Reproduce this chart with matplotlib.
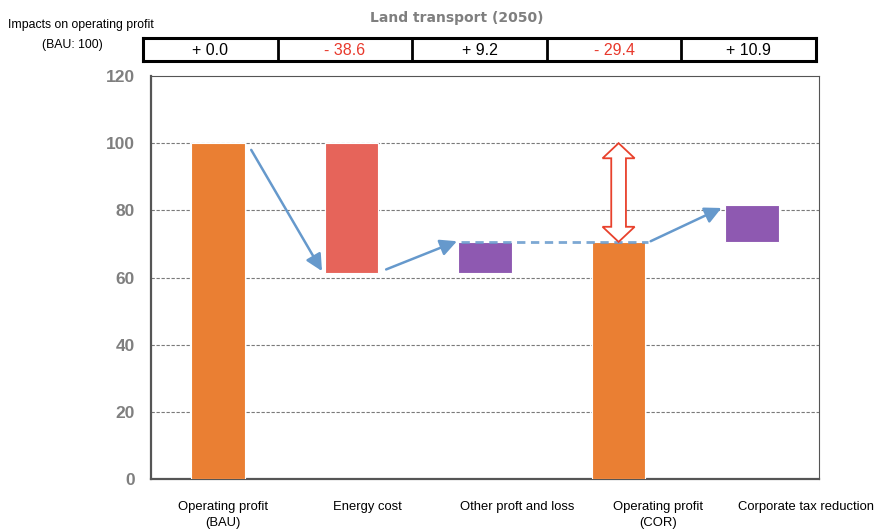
import matplotlib

matplotlib.use("Agg")
import matplotlib.pyplot as plt  # noqa: E402
import numpy as np  # noqa: E402
from matplotlib.patches import Polygon  # noqa: E402

categories = [
    "Operating profit\n(BAU)",
    "Energy cost",
    "Other proft and loss",
    "Operating profit\n(COR)",
    "Corporate tax reduction",
]
bau = 100.0
changes = [0.0, -38.6, 9.2, -29.4, 10.9]
change_labels = ["+ 0.0", "- 38.6", "+ 9.2", "- 29.4", "+ 10.9"]

# category labels in the source sit on their own, wider spacing (pixel centres)
label_px = [223, 367, 517, 658, 806]

ORANGE = "#EA7F33"
RED = "#E6645A"
PURPLE = "#8E59B1"
BLUE = "#6699CC"
NUM_RED = "#E8392C"
GRAY = "#7F7F7F"
SANS = ["Liberation Sans", "DejaVu Sans"]
W, H = 880, 532

# waterfall geometry from the data
energy_lo = bau + changes[1]
other_hi = energy_lo + changes[2]
cor = bau + changes[3]
tax_hi = cor + changes[4]
bottoms = [0, energy_lo, energy_lo, 0, cor]
heights = [bau, -changes[1], changes[2], cor, changes[4]]
colors = [ORANGE, RED, PURPLE, ORANGE, PURPLE]
x = np.arange(len(categories))
w = 0.4

fig = plt.figure(figsize=(8.8, 5.32), dpi=100)
ax = fig.add_axes([151 / W, 1 - 479 / H, 668 / W, 403 / H])
ax.bar(x, heights, bottom=bottoms, width=w, color=colors, edgecolor="white", linewidth=0.8, zorder=3)
ax.set_xlim(-0.5, 4.5)
ax.set_ylim(0, 120)
ax.set_yticks(np.arange(0, 121, 20))
ax.set_xticks([])
ax.tick_params(axis="y", length=0, pad=11.5, labelsize=12.5, labelcolor=GRAY)
for lab in ax.get_yticklabels():
    lab.set_fontweight("bold")
    lab.set_family(SANS)
for v in range(20, 101, 20):
    ax.axhline(v, color="#7A7A7A", lw=0.8, ls=(0, (3, 1.5)), zorder=1)
for s in ("top", "right"):
    ax.spines[s].set_color("#555555")
    ax.spines[s].set_linewidth(0.8)
for s in ("left", "bottom"):
    ax.spines[s].set_color("#555555")
    ax.spines[s].set_linewidth(1.6)

for px, lab in zip(label_px, categories):
    fig.text(px / W, 1 - 501 / H, lab, ha="center", va="top", fontsize=9.4,
             family=SANS, linespacing=1.4, multialignment="center")

# flow arrows
arrow_kw = dict(arrowstyle="-|>,head_length=1.0,head_width=0.5", color=BLUE, lw=1.8, shrinkA=0, shrinkB=0)
ax.annotate("", xy=(0.78, energy_lo + 0.5), xytext=(0.25, bau - 2), arrowprops=arrow_kw, zorder=5)
ax.annotate("", xy=(1.79, other_hi + 0.2), xytext=(1.26, energy_lo + 1), arrowprops=arrow_kw, zorder=5)
ax.annotate("", xy=(3.77, tax_hi - 0.8), xytext=(3.24, cor + 0.2), arrowprops=arrow_kw, zorder=5)
ax.plot([1.82, 3.22], [other_hi, other_hi], color=BLUE, lw=2, ls=(0, (3, 2)), alpha=0.85, zorder=4)

# hollow double arrow showing the gap between BAU and COR
xc, hw, sw, hl = 3.0, 0.12, 0.055, 4.5
top, bot = bau, cor
pts = [
    (xc, top), (xc + hw, top - hl), (xc + sw, top - hl), (xc + sw, bot + hl),
    (xc + hw, bot + hl), (xc, bot), (xc - hw, bot + hl), (xc - sw, bot + hl),
    (xc - sw, top - hl), (xc - hw, top - hl),
]
ax.add_patch(Polygon(pts, closed=True, facecolor="white", edgecolor="#E8412C", lw=1.3, zorder=6))

# change table above the plot
tab = fig.add_axes([143 / W, 1 - 61 / H, 673 / W, 23 / H])
tab.set_xlim(0, 5)
tab.set_ylim(0, 1)
tab.set_xticks([])
tab.set_yticks([])
for s in tab.spines.values():
    s.set_linewidth(2.2)
    s.set_color("black")
for i in range(1, 5):
    tab.axvline(i, color="black", lw=2)
for i, lab in enumerate(change_labels):
    tab.text(i + 0.5, 0.45, lab, ha="center", va="center", fontsize=11.5, family=SANS,
             color=NUM_RED if changes[i] < 0 else "black")

fig.text(457 / W, 1 - 18 / H, "Land transport (2050)", ha="center", va="center",
         fontsize=10, fontweight="bold", color=GRAY)
fig.text(8 / W, 1 - 25 / H, "Impacts on operating profit", ha="left", va="center",
         fontsize=8.8, family=SANS)
fig.text(72 / W, 1 - 45 / H, "(BAU: 100)", ha="center", va="center",
         fontsize=8.8, family=SANS)

fig.savefig("out.png", dpi=100)
plt.close(fig)
